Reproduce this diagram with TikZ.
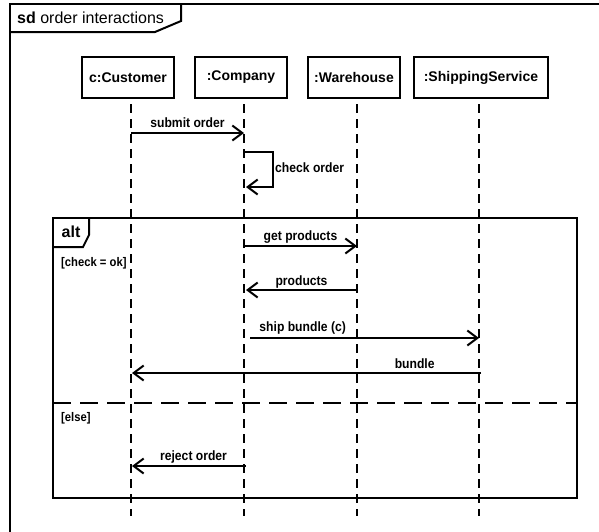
\documentclass[tikz,border=0pt]{standalone}
\usepackage{fontspec}
\setmainfont{Liberation Sans}
\newfontfamily\narrowfont[FakeStretch=0.9]{Liberation Sans}
\usetikzlibrary{arrows.meta}
\begin{document}
\begin{tikzpicture}[x=1pt,y=-1pt,
  frame/.style={line width=2pt,line join=miter},
  head/.style={draw,line width=1.5pt,minimum height=41pt,inner sep=0pt,font=\fontsize{14}{16}\selectfont\bfseries},
  life/.style={line width=2pt,dash pattern=on 9pt off 6pt},
  msg/.style={line width=2pt,-{Straight Barb[length=10pt,width=15pt]}},
  lbl/.style={font=\narrowfont\fontsize{13.5}{15}\selectfont\bfseries,text height=9.5pt,text depth=2.5pt,inner sep=0pt,yshift=9.5pt},
  guard/.style={font=\narrowfont\fontsize{12.5}{14}\selectfont\bfseries,anchor=west,inner sep=0pt},
  sep/.style={line width=2pt,dash pattern=on 18pt off 9pt}]
\useasboundingbox (0,0) rectangle (599,531);
\clip (0,0) rectangle (599,531);
\fill[white] (0,0) rectangle (599,531);

% outer frame
\draw[frame] (620,4) -- (10,4) -- (10,550);
\draw[frame] (181,4) -- (181,21) -- (155,32) -- (10,32);
\node[anchor=west,inner sep=0pt,font=\fontsize{16}{18}\selectfont] (title) at (17,18) {\textbf{sd} order interactions};

% heads
\node[head,minimum width=92pt] (cust) at (128,77.5) {c:Customer};
\node[head,minimum width=92pt] (comp) at (241,77.5) {:Company};
\node[head,minimum width=92pt] (ware) at (354,77.5) {:Warehouse};
\node[head,minimum width=134pt] (ship) at (481,77.5) {:ShippingService};

% lifelines
\coordinate (cT) at (131,104); \coordinate (cB) at (131,516);
\coordinate (oT) at (244,104); \coordinate (oB) at (244,516);
\coordinate (wT) at (357,104); \coordinate (wB) at (357,516);
\coordinate (sT) at (479,104); \coordinate (sB) at (479,516);
\draw[life] (cT) -- (cB);
\draw[life] (oT) -- (oB);
\draw[life] (wT) -- (wB);
\draw[life] (sT) -- (sB);

% alt fragment
\draw[frame] (53,218) rectangle (577,498);
\draw[frame] (89,218) -- (89,235) -- (83,247) -- (53,247);
\node[inner sep=0pt,font=\fontsize{16}{18}\selectfont\bfseries] (alt) at (71,232) {alt};
\node[guard] (g1) at (61,263) {[check = ok]};
\coordinate (eL) at (53,403); \coordinate (eR) at (577,403);
\draw[sep] (eL) -- (eR);
\node[guard] (g2) at (61,418) {[else]};

% messages
\coordinate (m1a) at (131,133); \coordinate (m1b) at (244,133);
\draw[msg] (m1a) -- node[lbl] {submit order} (m1b);

\coordinate (m2a) at (244,152); \coordinate (m2b) at (273,152);
\coordinate (m2c) at (273,187); \coordinate (m2d) at (246,187);
\draw[msg,line join=miter] (m2a) -- (m2b) -- (m2c) -- (m2d);
\node[font=\narrowfont\fontsize{13.5}{15}\selectfont\bfseries,anchor=west,inner sep=0pt] (m2l) at (275,168) {check order};

\coordinate (m3a) at (244,246); \coordinate (m3b) at (357,246);
\draw[msg] (m3a) -- node[lbl] {get products} (m3b);

\coordinate (m4a) at (357,290); \coordinate (m4b) at (246,290);
\draw[msg] (m4a) -- node[lbl,yshift=-1pt] {products} (m4b);

\coordinate (m5a) at (250,338); \coordinate (m5b) at (479,338);
\draw[msg] (m5a) -- node[lbl,pos=0.23,yshift=1pt] {ship bundle (c)} (m5b);

\coordinate (m6a) at (481,373); \coordinate (m6b) at (132,373);
\draw[msg] (m6a) -- node[lbl,pos=0.19,yshift=-1pt] {bundle} (m6b);

\coordinate (m7a) at (246,466); \coordinate (m7b) at (132,466);
\draw[msg] (m7a) -- node[lbl,pos=0.46] {reject order} (m7b);
\end{tikzpicture}
\end{document}
